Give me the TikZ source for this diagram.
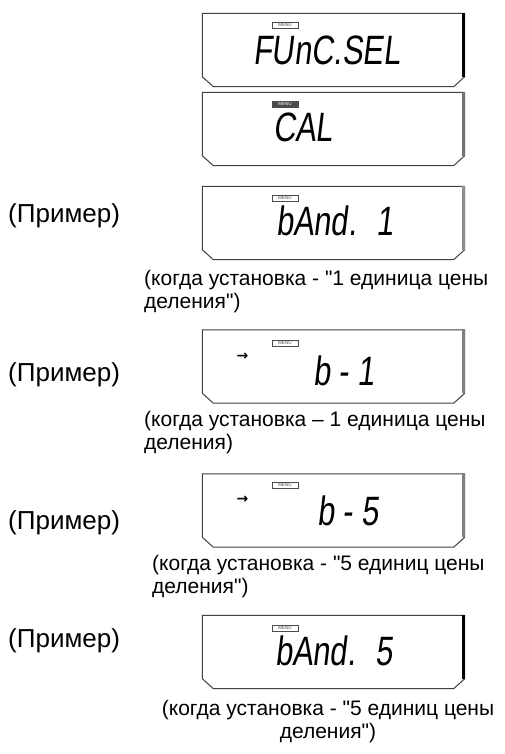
\documentclass[tikz,border=0pt]{standalone}
\usepackage{fontspec}
\setmainfont{Liberation Sans}[Ligatures=TeXOff]
\newfontfamily\segfont[FakeStretch=0.75,FakeSlant=0.12]{Liberation Sans}
\newfontfamily\arrowfont{DejaVu Sans}
\usetikzlibrary{positioning}

\begin{document}
\begin{tikzpicture}[x=1pt, y=-1pt, font=\fontsize{21}{23.5}\selectfont,
    lcd/.style={minimum width=262pt, minimum height=73pt, inner sep=0pt},
    frame/.style={draw=black!75, line width=1pt, fill=white},
    seg/.style={font=\segfont\fontsize{41}{41}\selectfont, anchor=base west, inner sep=0pt},
    menu/.style={draw=black!70, text=black!70, font=\fontsize{4.5}{4.5}\selectfont,
      minimum width=26pt, minimum height=5.5pt, inner sep=0pt},
    ex/.style={font=\fontsize{26}{30}\selectfont, anchor=base west, inner sep=0pt},
    note/.style={align=left, anchor=north west, inner sep=0pt},
    arr/.style={font=\arrowfont\bfseries\fontsize{14}{14}\selectfont, inner sep=0pt}]
    \useasboundingbox (0,0) rectangle (504,754);
    % display frames
    \foreach \n/\y in {1/50,2/129,3/223,4/366.5,5/510.5,6/652}
      \node[lcd] (d\n) at (333.5,\y) {};
    \foreach \n/\c in {1/black,2/black!55,3/black!45,4/black!50,5/black!50,6/black} {
      \draw[frame] (d\n.north west) -- (d\n.north east) -- ([yshift=10pt]d\n.south east)
        -- ([xshift=-11pt]d\n.south east) -- ([xshift=11pt]d\n.south west)
        -- ([yshift=10pt]d\n.south west) -- cycle;
      \draw[\c, line width=3.5pt] ([xshift=-1.2pt]d\n.north east) -- ([xshift=-1.2pt, yshift=10pt]d\n.south east);
    }
    % MENU marks
    \foreach \n/\y in {1/25,3/198,4/343,5/485,6/628}
      \node[menu] (m\n) at (285,\y) {MENU};
    \node[menu, fill=black!70, text=white] (m2) at (285,104) {MENU};
    % display texts
    \node[seg] (t1) at (253,65) {FUnC.SEL};
    \node[seg] (t2) at (273,142) {CAL};
    \node[seg] (t3) at (276,235) {bAnd.\hspace{20pt}1};
    \node[seg] (t4) at (313,385) {b - 1};
    \node[seg] (t5) at (317,525) {b - 5};
    \node[seg] (t6) at (275,665) {bAnd.\hspace{20pt}5};
    \node[arr] (a4) at (242.5,357) {→};
    \node[arr] (a5) at (242.5,500) {→};
    % examples
    \node[ex] (p3) at (8,222) {(Пример)};
    \node[ex] (p4) at (8,381) {(Пример)};
    \node[ex] (p5) at (8,529) {(Пример)};
    \node[ex] (p6) at (8,647) {(Пример)};
    % captions
    \node[note] (c3) at (144,270) {(когда установка - "1 единица цены\\деления")};
    \node[note] (c4) at (144,411) {(когда установка – 1 единица цены\\деления)};
    \node[note] (c5) at (152,555) {(когда установка - "5 единиц цены\\деления")};
    \node[note, align=center, anchor=north] (c6) at (328,700) {(когда установка - "5 единиц цены\\деления")};
\end{tikzpicture}
\end{document}
